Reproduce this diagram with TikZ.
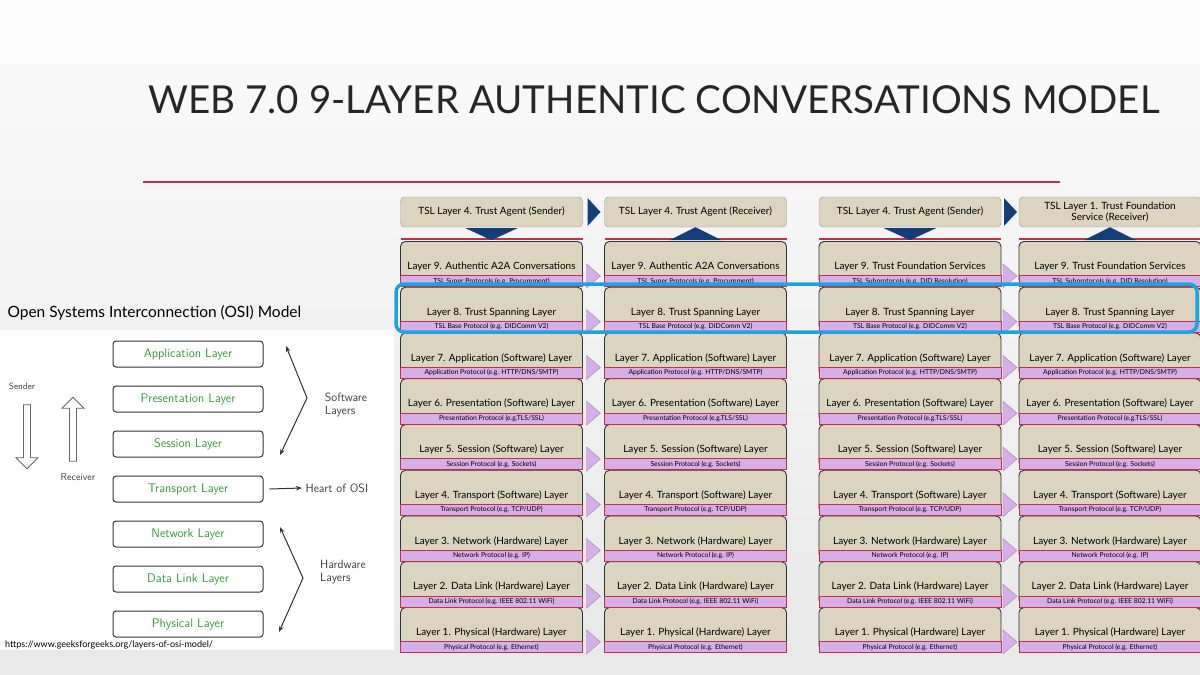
\documentclass[tikz,border=0pt]{standalone}
\usepackage{fontspec}
\setmainfont{Lato}
\usetikzlibrary{positioning,shapes.arrows,arrows.meta}
\definecolor{beige}{HTML}{DBD4BE}
\definecolor{lav}{HTML}{D6AEEA}
\definecolor{redline}{HTML}{C0304A}
\definecolor{navy}{HTML}{123F7A}
\definecolor{hl}{HTML}{1BA5DE}
\definecolor{osigreen}{HTML}{3A9A3A}
\tikzset{
  layerbox/.style={draw=black!80, fill=beige, rounded corners=5pt, line width=0.9pt,
    minimum width=182pt, minimum height=43pt, inner sep=0pt},
  tslbox/.style={draw=black!40, fill=beige, rounded corners=4pt, minimum width=182pt,
    minimum height=30pt, inner sep=1pt, align=center, font=\fontsize{10}{11}\selectfont},
  protoband/.style={draw=redline, fill=lav, line width=0.6pt, minimum width=182pt,
    minimum height=11pt, inner sep=0pt, font=\fontsize{6.8}{8}\selectfont},
  osibox/.style={draw=black!80, rounded corners=3pt, line width=1pt, minimum width=150pt,
    minimum height=26pt, text=osigreen, font=\sffamily\fontsize{12.5}{13}\selectfont},
  ositext/.style={font=\sffamily\fontsize{12}{13}\selectfont, text=black!75, align=left},
  hollow/.style={single arrow, draw=black!60, line width=0.8pt, fill=white, minimum height=64pt,
    single arrow head extend=5pt, single arrow head indent=0pt, minimum width=22pt, inner sep=2pt},
  lavarrow/.style={fill=lav, draw=lav!70!black, line width=0.3pt},
}
\begin{document}
\begin{tikzpicture}[x=1pt,y=-1pt]
  % Fondo
  \shade[top color=gray!3, bottom color=gray!18] (0,0) rectangle (1200,675);
  \useasboundingbox (0,0) rectangle (1200,675);

  % Titulo
  \node[font=\fontsize{38.5}{40}\selectfont, text=black!85] (title) at (654,100)
    {WEB 7.0 9-LAYER AUTHENTIC CONVERSATIONS MODEL};
  \draw[redline, line width=1.6pt] (143,182) -- (1060,182);

  % Columnas de capas
  \foreach \c/\x in {1/491.5, 2/695.5, 3/910, 4/1110}{
    \foreach \r in {1,...,9}{
      \pgfmathsetmacro{\yt}{241+(9-\r)*45.75}
      \draw[redline, line width=1.2pt] (\x-91,\yt-2) -- (\x+91,\yt-2);
      \node[layerbox, anchor=north] (L\c-\r) at (\x,\yt) {};
      \node[protoband, anchor=south] (P\c-\r) at ([yshift=-2pt]L\c-\r.south) {};
    }
  }

  % Textos (filas 8 a 1 iguales en todas las columnas)
  \foreach \c in {1,...,4}{
    \foreach \r/\main/\proto in {
      8/Trust Spanning Layer/TSL Base Protocol (e.g. DIDComm V2),
      7/Application (Software) Layer/{Application Protocol (e.g. HTTP/DNS/SMTP)},
      6/Presentation (Software) Layer/{Presentation Protocol (e.g.TLS/SSL)},
      5/Session (Software) Layer/Session Protocol (e.g. Sockets),
      4/Transport (Software) Layer/{Transport Protocol (e.g. TCP/UDP)},
      3/Network (Hardware) Layer/Network Protocol (e.g. IP),
      2/Data Link (Hardware) Layer/Data Link Protocol (e.g. IEEE 802.11 WiFi),
      1/Physical (Hardware) Layer/Physical Protocol (e.g. Ethernet)}{
      \node[font=\fontsize{10}{11}\selectfont, above=0.5pt of P\c-\r] {Layer \r. \main};
      \node[font=\fontsize{6.8}{8}\selectfont] at (P\c-\r) {\proto};
    }
  }
  \foreach \c/\main/\proto in {
    1/Authentic A2A Conversations/TSL Super Protocols (e.g. Procurement),
    2/Authentic A2A Conversations/TSL Super Protocols (e.g. Procurement),
    3/Trust Foundation Services/TSL Subprotocols (e.g. DID Resolution),
    4/Trust Foundation Services/TSL Subprotocols (e.g. DID Resolution)}{
    \node[font=\fontsize{10}{11}\selectfont, above=0.5pt of P\c-9] {Layer 9. \main};
    \node[font=\fontsize{6.8}{8}\selectfont] at (P\c-9) {\proto};
  }

  % Flechas entre columnas
  \foreach \a/\b in {1/2, 3/4}{
    \foreach \r in {1,...,9}{
      \path (L\a-\r.east) -- (L\b-\r.west) coordinate[midway] (m\a-\r);
      \fill[lavarrow] ([xshift=-7pt,yshift=-1pt]m\a-\r) -- ([xshift=7pt,yshift=-13pt]m\a-\r)
        -- ([xshift=-7pt,yshift=-25pt]m\a-\r) -- cycle;
    }
  }

  % Agentes TSL
  \node[tslbox] (T1) at (491.5,212) {TSL Layer 4. Trust Agent (Sender)};
  \node[tslbox] (T2) at (695.5,212) {TSL Layer 4. Trust Agent (Receiver)};
  \node[tslbox] (T3) at (910,212) {TSL Layer 4. Trust Agent (Sender)};
  \node[tslbox] (T4) at (1110,212) {TSL Layer 1. Trust Foundation\\Service (Receiver)};
  \foreach \c in {1,3}
    \fill[navy] ([xshift=-26pt,yshift=-1pt]T\c.south) -- ([xshift=26pt,yshift=-1pt]T\c.south)
      -- ([yshift=-13pt]T\c.south) -- cycle;
  \foreach \c in {2,4}
    \fill[navy] ([xshift=-26pt,yshift=-13pt]T\c.south) -- ([xshift=26pt,yshift=-13pt]T\c.south)
      -- (T\c.south) -- cycle;
  \foreach \a/\b in {1/2, 3/4}{
    \path (T\a.east) -- (T\b.west) coordinate[midway] (n\a);
    \fill[navy] ([xshift=-6pt,yshift=-14pt]n\a) -- ([xshift=7pt]n\a) -- ([xshift=-6pt,yshift=14pt]n\a) -- cycle;
  }

  % Resaltado de la capa 8
  \draw[hl, line width=3.5pt, rounded corners=8pt] (396,284) rectangle (1197,332);

  % Modelo OSI
  \node[font=\fontsize{15.5}{17}\selectfont, anchor=west] (osititle) at (4,313)
    {Open Systems Interconnection (OSI) Model};
  \fill[white] (0,330) rectangle (394,650);
  \foreach \i/\name in {1/Application Layer, 2/Presentation Layer, 3/Session Layer,
      4/Transport Layer, 5/Network Layer, 6/Data Link Layer, 7/Physical Layer}
    \node[osibox] (O\i) at (188,{354+(\i-1)*45}) {\name};
  \node[hollow, shape border rotate=270] (down) at (27,435) {};
  \node[hollow, shape border rotate=90] (up) at (73,431) {};
  \node[ositext, font=\sffamily\fontsize{9}{10}\selectfont] (sender) at (22,386) {Sender};
  \node[ositext, font=\sffamily\fontsize{10}{11}\selectfont] (receiver) at (78,477) {Receiver};
  \coordinate (sw1) at (286,346);
  \coordinate (sw2) at (280,455);
  \coordinate (hw1) at (280,527);
  \coordinate (hw2) at (279,632);
  \draw[{Stealth[length=6pt]}-{Stealth[length=6pt]}, line width=1pt, black!80]
    (sw1) -- (307,398) -- (sw2);
  \draw[{Stealth[length=6pt]}-{Stealth[length=6pt]}, line width=1pt, black!80]
    (hw1) -- (303,578) -- (hw2);
  \node[ositext] (soft) at (346,405) {Software\\Layers};
  \node[ositext] (hard) at (343,572) {Hardware\\Layers};
  \node[ositext, anchor=west] (heart) at (302,488) {Heart of OSI};
  \draw[-{Stealth[length=6pt]}, line width=1pt, black!80] (O4.east) ++(6pt,0) -- (heart.west);
  \node[font=\fontsize{9}{10}\selectfont, anchor=west, fill=white, inner sep=1pt] (url) at (4,645)
    {https://www.geeksforgeeks.org/layers-of-osi-model/};
\end{tikzpicture}
\end{document}
